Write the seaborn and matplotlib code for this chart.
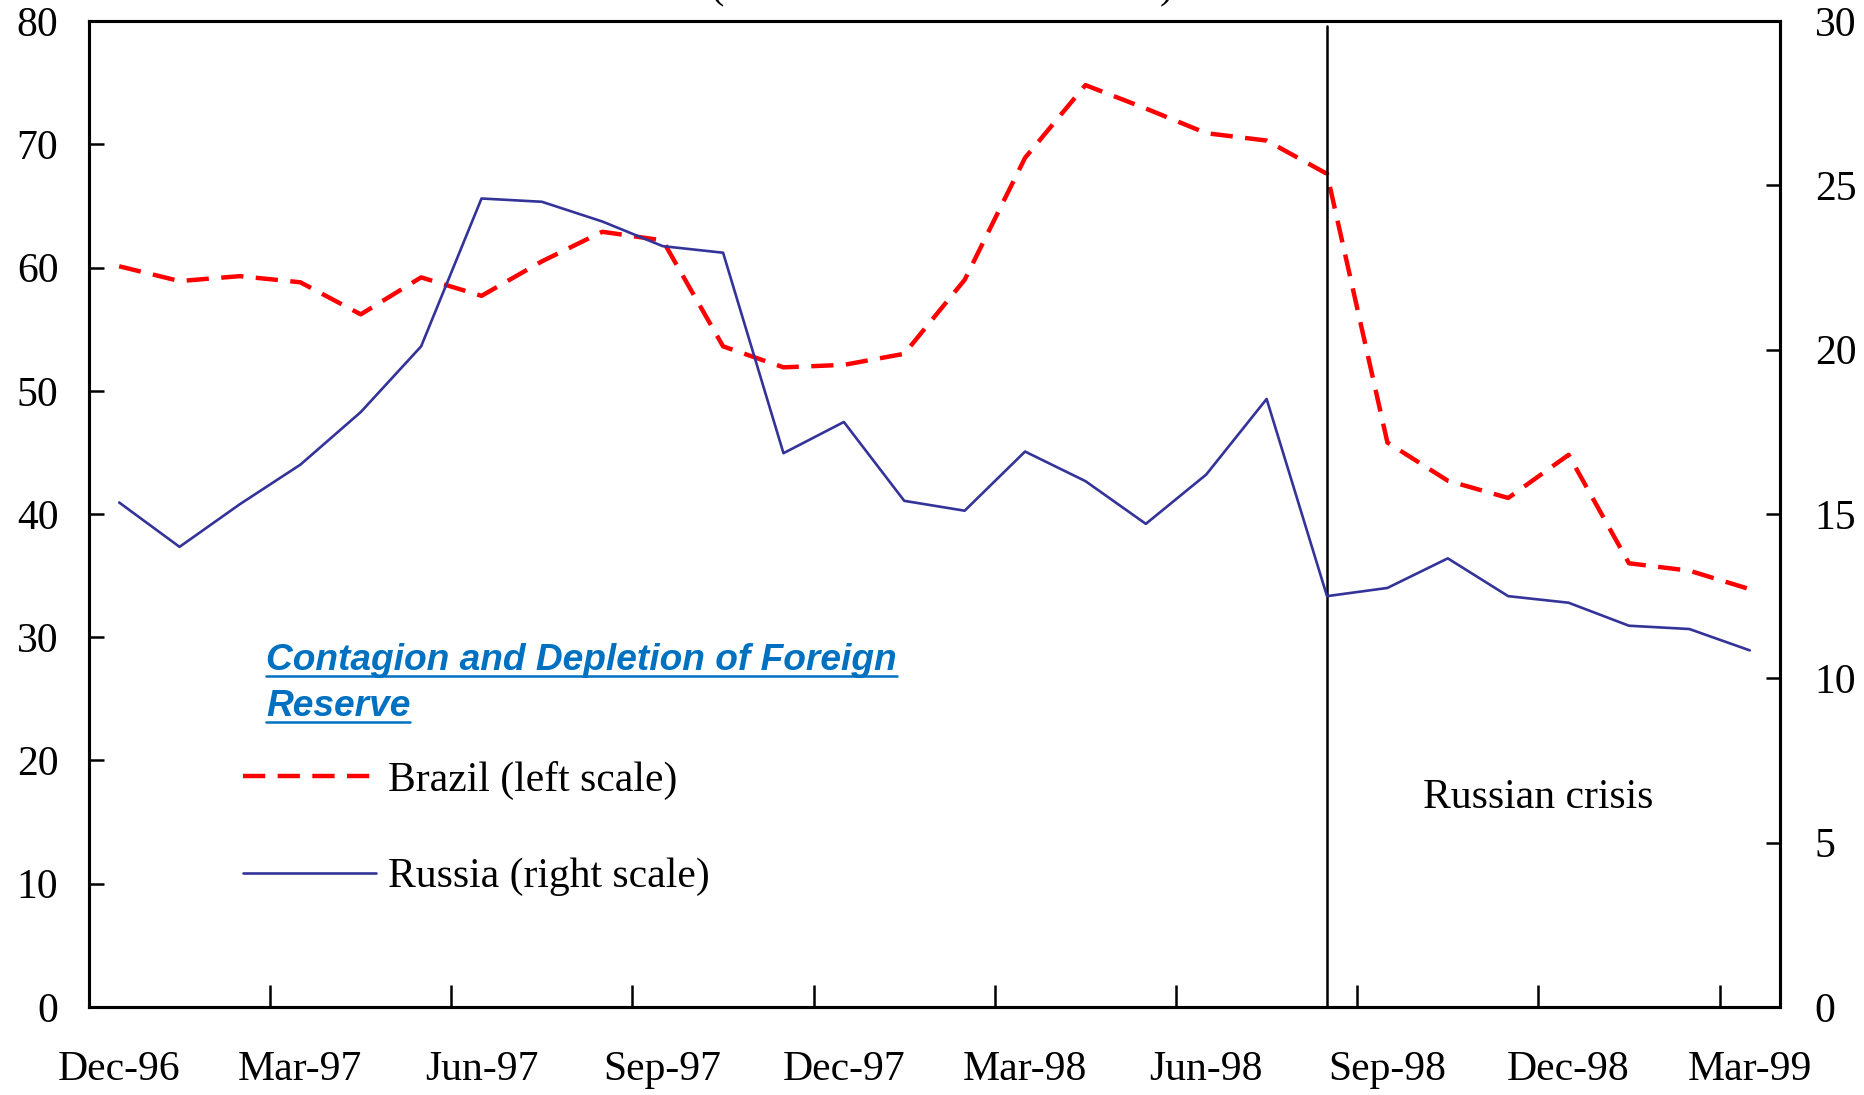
import matplotlib
matplotlib.use('Agg')
import matplotlib.pyplot as plt
import seaborn as sns
import pandas as pd
from matplotlib.lines import Line2D

# === Data ===
months = ['Dec-96', 'Jan-97', 'Feb-97', 'Mar-97', 'Apr-97', 'May-97', 'Jun-97',
          'Jul-97', 'Aug-97', 'Sep-97', 'Oct-97', 'Nov-97', 'Dec-97', 'Jan-98',
          'Feb-98', 'Mar-98', 'Apr-98', 'May-98', 'Jun-98', 'Jul-98', 'Aug-98',
          'Sep-98', 'Oct-98', 'Nov-98', 'Dec-98', 'Jan-99', 'Feb-99', 'Mar-99']
brazil = [60.1, 58.9, 59.3, 58.8, 56.2, 59.2, 57.7, 60.5, 62.9, 62.2, 53.6, 51.9,
          52.1, 53.0, 59.0, 68.9, 74.8, 72.9, 70.9, 70.3, 67.6, 45.8, 42.7, 41.3,
          44.8, 36.0, 35.4, 33.9]
russia = [15.35, 14.0, 15.3, 16.5, 18.1, 20.1, 24.6, 24.5, 23.9, 23.15, 22.95, 16.85,
          17.8, 15.4, 15.1, 16.9, 16.0, 14.7, 16.2, 18.5, 12.5, 12.75, 13.65, 12.5,
          12.3, 11.6, 11.5, 10.85]
tick_labels = months[::3]
crisis_month = 'Aug-98'

df = pd.DataFrame({'month': months, 'brazil': brazil, 'russia': russia})
df['pos'] = range(len(df))

# === Style ===
sns.set_style('ticks')
plt.rcParams['font.family'] = ['Liberation Serif', 'DejaVu Serif']
plt.rcParams.update({'text.color': 'black', 'axes.labelcolor': 'black',
                     'xtick.color': 'black', 'ytick.color': 'black'})

fig = plt.figure(figsize=(18.65, 10.95), dpi=100)
ax = fig.add_axes([0.0477, 0.0804, 0.9067, 0.9004])
ax2 = ax.twinx()

red = '#FF0000'
navy = '#333399'

sns.lineplot(data=df, x='pos', y='brazil', ax=ax, color=red, lw=3.2,
             linestyle=(0, (5, 2.8)))
sns.lineplot(data=df, x='pos', y='russia', ax=ax2, color=navy, lw=1.9)

crisis_x = months.index(crisis_month)
ax.axvline(crisis_x, ymax=0.995, color='black', lw=1.8)

# === Axes ===
ax.set_xlim(-0.5, len(months) - 0.5)
ax.set_ylim(0, 80)
ax2.set_ylim(0, 30)
ax.set_yticks(range(0, 81, 10))
ax2.set_yticks(range(0, 31, 5))
ax.set_xticks(range(0, len(months), 3))
ax.set_xticklabels(tick_labels)
ax.set_xticks([p - 0.5 for p in range(0, len(months), 3)], minor=True)
ax.tick_params(axis='x', which='major', length=0, pad=31, labelsize=30)
ax.tick_params(axis='x', which='minor', direction='in', length=16, width=1.8)
ax.tick_params(axis='y', direction='in', length=11, width=1.8, pad=22, labelsize=30)
ax2.tick_params(axis='y', direction='in', length=10, width=1.8, pad=25, labelsize=30)
for a in (ax, ax2):
    a.set_xlabel('')
    a.set_ylabel('')
    for s in a.spines.values():
        s.set_visible(True)
        s.set_linewidth(2.2)
        s.set_color('black')

# === Legend & annotations ===
h1 = Line2D([], [], color=red, lw=3.2, linestyle=(0, (5, 2.8)))
h2 = Line2D([], [], color=navy, lw=1.9)
ax2.legend([h1, h2], ['Brazil (left scale)', 'Russia (right scale)'],
           loc='upper left', bbox_to_anchor=(0.091, 0.250), frameon=False,
           borderpad=0, borderaxespad=0, handlelength=3.2, handletextpad=0.28,
           labelspacing=1.4, fontsize=30)

ax.text(23.5, 17.0, 'Russian crisis', ha='center', va='center', fontsize=30)

note_lines = ['Contagion and Depletion of Foreign', 'Reserve']
note_y = [0.351, 0.305]
notes = []
for txt, yy in zip(note_lines, note_y):
    t = ax.text(0.1047, yy, txt, transform=ax.transAxes, ha='left', va='center',
                fontsize=26.7, fontweight='bold', fontstyle='italic', color='#0070C0',
                family=['Liberation Sans', 'DejaVu Sans'])
    notes.append(t)

# cropped title at top (only parentheses visible)
fig.text(0.381, 1.001, '(', ha='left', va='baseline', fontsize=29)
fig.text(0.622, 1.001, ')', ha='left', va='baseline', fontsize=29)

fig.canvas.draw()
renderer = fig.canvas.get_renderer()
inv = fig.transFigure.inverted()
for t in notes:
    bb = t.get_window_extent(renderer)
    yline = bb.y0 + 2
    (x0, y0), (x1, y1) = inv.transform([(bb.x0, yline), (bb.x1, yline)])
    fig.add_artist(Line2D([x0, x1], [y0, y1], transform=fig.transFigure,
                          color='#0070C0', lw=1.8))

fig.savefig('out.png', dpi=100)
